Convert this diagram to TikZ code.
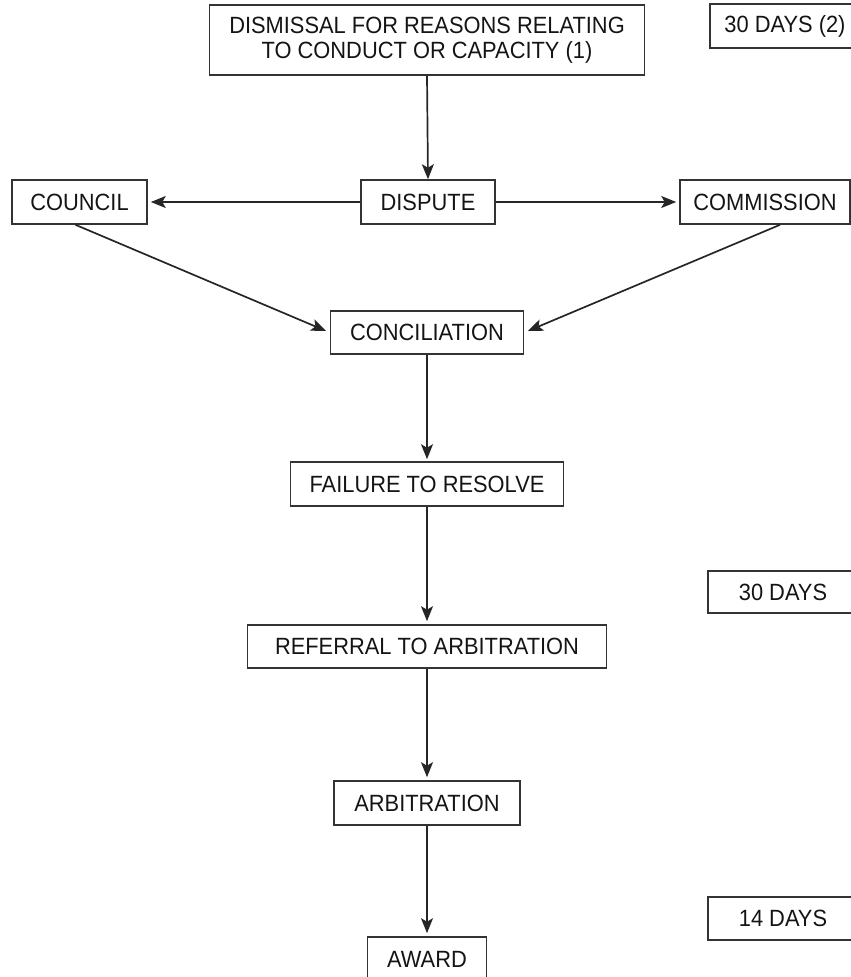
\documentclass[tikz,border=0pt]{standalone}
\usepackage{fontspec}
\setmainfont{Liberation Sans}
\newfontfamily\boxfont[FakeStretch=0.93]{Liberation Sans}
\usetikzlibrary{arrows.meta}

\tikzset{
  box/.style={draw=black!80, line width=1.6pt, rectangle, inner sep=0pt,
              minimum height=44pt, align=center, text=black!92,
              font=\boxfont\fontsize{23.5}{25}\selectfont},
  arr/.style={draw=black!85, line width=1.7pt,
              -{Stealth[length=15pt,width=12pt,inset=3.5pt]}}
}

\begin{document}
\begin{tikzpicture}[x=1pt,y=-1pt]
  \useasboundingbox (0,0) rectangle (851,977);

  % main column
  \node[box, minimum width=435pt, minimum height=70pt] (dismissal) at (427,40)
       {DISMISSAL FOR REASONS RELATING\\TO CONDUCT OR CAPACITY (1)};
  \node[box, minimum width=134pt] (dispute)    at (428,202)   {DISPUTE};
  \node[box, minimum width=135pt] (council)    at (79.5,202)  {COUNCIL};
  \node[box, minimum width=170pt] (commission) at (765,202)   {COMMISSION};
  \node[box, minimum width=193pt, minimum height=43pt] (conciliation) at (427,332.5) {CONCILIATION};
  \node[box, minimum width=273pt] (failure)    at (427,484)   {FAILURE TO RESOLVE};
  \node[box, minimum width=359pt, minimum height=43pt] (referral) at (427,646.5) {REFERRAL TO ARBITRATION};
  \node[box, minimum width=186pt] (arbitration) at (427,803)  {ARBITRATION};
  \node[box, minimum width=119pt] (award)      at (427,959)   {AWARD};

  % time limits on the right
  \node[box, minimum width=150pt] (days2)  at (785,26)    {30 DAYS (2)};
  \node[box, minimum width=150pt, minimum height=42pt] (days30) at (783,592) {30 DAYS};
  \node[box, minimum width=150pt, minimum height=43pt] (days14) at (783,918.5) {14 DAYS};

  % connectors
  \draw[arr] (dismissal.south) -- (dispute.north);
  \draw[arr, shorten >=3pt] (dispute.west) -- (council.east);
  \draw[arr, shorten >=3pt] (dispute.east) -- (commission.west);
  \draw[arr, shorten >=4pt] ([xshift=-4pt]council.south) -- (conciliation.west);
  \draw[arr, shorten >=4pt] ([xshift=15pt]commission.south) -- (conciliation.east);
  \draw[arr, shorten >=2pt] (conciliation.south) -- (failure.north);
  \draw[arr, shorten >=3pt] (failure.south) -- (referral.north);
  \draw[arr, shorten >=3pt] (referral.south) -- (arbitration.north);
  \draw[arr, shorten >=3pt] (arbitration.south) -- (award.north);
\end{tikzpicture}
\end{document}
